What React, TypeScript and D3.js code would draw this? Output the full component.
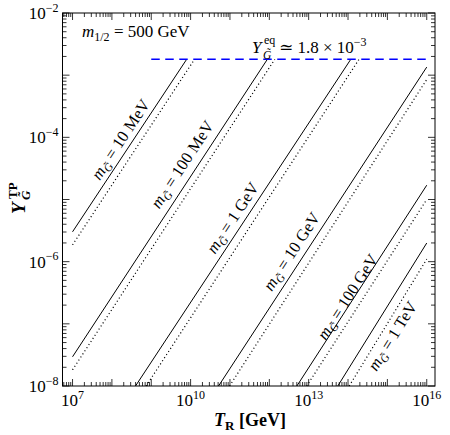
import React from "react";
import * as d3 from "d3";

const W = 450;
const H = 435;

// axis limits (log10)
const xLogDomain = [6.745, 16.21];
const yLogDomain = [-8, -2];

// tick labels (exponents)
const xTickExps = [7, 10, 13, 16];
const yTickExps = [-2, -4, -6, -8];

// gravitino masses
const massLabels = ["10 MeV", "100 MeV", "1 GeV", "10 GeV", "100 GeV", "1 TeV"];

// solid curves: [log10 T_R, log10 Y] at both ends
const solidStart = [[7, -5.52], [7, -7.53], [8.6, -8], [10.71, -8], [12.7, -8], [13.74, -8]];
const solidEnd = [[9.9, -2.745], [11.95, -2.745], [14.07, -2.745], [16, -2.87], [16, -4.77], [16, -5.7]];

// dotted curves
const dottedStart = [[7, -5.73], [7, -7.74], [8.87, -8], [10.99, -8], [12.95, -8], [14.03, -8]];
const dottedEnd = [[10.1, -2.745], [12.14, -2.745], [14.28, -2.745], [16, -3.07], [16, -5.0], [16, -5.96]];

// label anchors [log10 T_R, log10 Y]
const labelAt = [[8.23, -4.04], [9.8, -4.44], [11.08, -5.3], [12.58, -5.84], [14.0, -6.57], [15.14, -7.2]];

// equilibrium yield
const yEq = 1.8e-3;
const eqFrom = 1e9;
const eqTo = 1e16;

const font = "'Liberation Serif', 'DejaVu Serif', serif";

const x = d3.scaleLog().domain(xLogDomain.map(v => Math.pow(10, v))).range([62.5, 435]);
const y = d3.scaleLog().domain(yLogDomain.map(v => Math.pow(10, v))).range([386, 13]);

const px = (p: number[]) => x(Math.pow(10, p[0]));
const py = (p: number[]) => y(Math.pow(10, p[1]));

const line = d3.line<number[]>().x(px).y(py);

function logTicks(lo: number, hi: number) {
    const out: { v: number; major: boolean }[] = [];
    for (let d = Math.floor(lo); d <= Math.ceil(hi); d++) {
        for (let k = 1; k <= 9; k++) {
            const v = k * Math.pow(10, d);
            const l = Math.log10(v);
            if (l >= lo - 1e-9 && l <= hi + 1e-9) out.push({ v, major: k === 1 });
        }
    }
    return out;
}

export default function App() {
    const [x0, x1] = x.range();
    const [y0, y1] = y.range(); // y0 bottom, y1 top
    const xt = logTicks(xLogDomain[0], xLogDomain[1]);
    const yt = logTicks(yLogDomain[0], yLogDomain[1]);
    const maj = 7, mnr = 4;

    return (
        <svg width={W} height={H} style={{ position: "absolute", left: 0, top: 0, background: "#fff" }}
             fontFamily={font}>
            <rect x={0} y={0} width={W} height={H} fill="#fff" />

            {/* curves */}
            {massLabels.map((m, i) => (
                <g key={m}>
                    <path d={line([solidStart[i], solidEnd[i]]) || ""} fill="none" stroke="#000" strokeWidth={1} />
                    <path d={line([dottedStart[i], dottedEnd[i]]) || ""} fill="none" stroke="#000"
                          strokeWidth={1.2} strokeDasharray="1.1,2.6" />
                </g>
            ))}

            {/* equilibrium */}
            <line x1={x(eqFrom)} x2={x(eqTo)} y1={y(yEq)} y2={y(yEq)} stroke="#0000ff" strokeWidth={1.6}
                  strokeDasharray="8.5,5.5" />

            {/* curve labels */}
            {massLabels.map((m, i) => {
                const a = solidStart[i], b = solidEnd[i];
                const ang = Math.atan2(py(b) - py(a), px(b) - px(a)) * 180 / Math.PI;
                const cx = px(labelAt[i]), cy = py(labelAt[i]);
                return (
                    <text key={m} transform={`translate(${cx},${cy}) rotate(${ang})`} textAnchor="middle"
                          dy={5} fontSize={16.5}>
                        <tspan fontStyle="italic">m</tspan>
                        <tspan fontStyle="italic" fontSize={11.5} dy={3.5}>{"G\u0303"}</tspan>
                        <tspan dy={-3.5}>{" = " + m}</tspan>
                    </text>
                );
            })}

            {/* annotations */}
            <text x={82} y={37} fontSize={17}>
                <tspan fontStyle="italic">m</tspan>
                <tspan fontSize={12} dy={3.5}>1/2</tspan>
                <tspan dy={-3.5}> = 500 GeV</tspan>
            </text>
            <text x={252} y={53} fontSize={17} fontStyle="italic">Y</text>
            <text x={264} y={44} fontSize={12}>eq</text>
            <text x={263} y={59} fontSize={11.5} fontStyle="italic">{"G\u0303"}</text>
            <text x={279} y={53} fontSize={17}>
                {"\u2243 1.8 \u00d7 10"}
                <tspan fontSize={12} dy={-7.5}>{"\u22123"}</tspan>
            </text>

            {/* frame */}
            <rect x={x0} y={y1} width={x1 - x0} height={y0 - y1} fill="none" stroke="#000" strokeWidth={1} />

            {/* x ticks */}
            {xt.map((t, i) => {
                const X = x(t.v), L = t.major ? maj : mnr;
                return (
                    <g key={"xt" + i} stroke="#000" strokeWidth={0.8}>
                        <line x1={X} x2={X} y1={y0} y2={y0 - L} />
                        <line x1={X} x2={X} y1={y1} y2={y1 + L} />
                    </g>
                );
            })}
            {/* y ticks */}
            {yt.map((t, i) => {
                const Y = y(t.v), L = t.major ? maj : mnr;
                return (
                    <g key={"yt" + i} stroke="#000" strokeWidth={0.8}>
                        <line x1={x0} x2={x0 + L} y1={Y} y2={Y} />
                        <line x1={x1} x2={x1 - L} y1={Y} y2={Y} />
                    </g>
                );
            })}

            {/* tick labels */}
            {xTickExps.map(e => (
                <text key={"xl" + e} x={x(Math.pow(10, e))} y={y0 + 20} fontSize={17} textAnchor="middle">
                    10<tspan fontSize={12} dy={-7.5}>{String(e)}</tspan>
                </text>
            ))}
            {yTickExps.map(e => (
                <text key={"yl" + e} x={x0 - 4} y={y(Math.pow(10, e)) + 6} fontSize={17} textAnchor="end">
                    10<tspan fontSize={12} dy={-7.5}>{"\u2212" + String(-e)}</tspan>
                </text>
            ))}

            {/* axis titles */}
            <text x={250} y={426} fontSize={18} fontWeight="bold" textAnchor="middle">
                <tspan fontStyle="italic">T</tspan>
                <tspan fontSize={13} dy={3.5}>R</tspan>
                <tspan dy={-3.5}> [GeV]</tspan>
            </text>
            <g transform="translate(25,198) rotate(-90)" fontWeight="bold">
                <text x={-16} y={0} fontSize={19} fontStyle="italic">Y</text>
                <text x={-1} y={-8} fontSize={13}>TP</text>
                <text x={-2} y={4.5} fontSize={13} fontStyle="italic">{"G\u0303"}</text>
            </g>
        </svg>
    );
}
